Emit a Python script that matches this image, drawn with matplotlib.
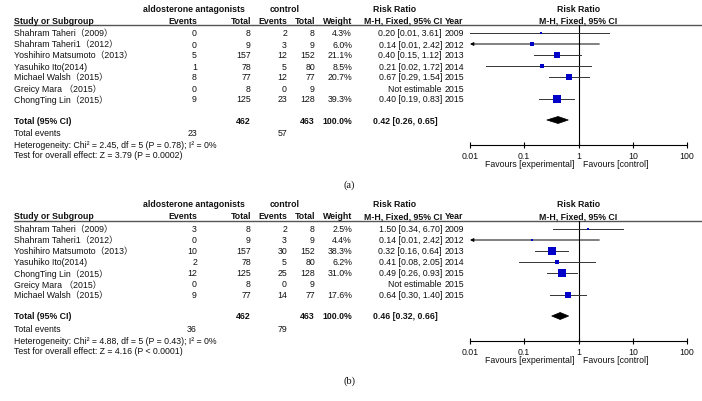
import matplotlib
matplotlib.use("Agg")
import matplotlib.pyplot as plt
from matplotlib.patches import Polygon
import numpy as np

plt.rcParams['font.family'] = ['Liberation Sans', 'Noto Sans CJK SC', 'DejaVu Sans']

# ---------------- data ----------------
studies_a = ["Shahram Taheri（2009）", "Shahram Taheri1（2012）", "Yoshihiro Matsumoto（2013）",
             "Yasuhiko Ito(2014)", "Michael Walsh（2015）", "Greicy Mara （2015）", "ChongTing Lin（2015）"]
exp_events_a = [0, 0, 5, 1, 8, 0, 9]
exp_total_a = [8, 9, 157, 78, 77, 8, 125]
ctl_events_a = [2, 3, 12, 5, 12, 0, 23]
ctl_total_a = [8, 9, 152, 80, 77, 9, 128]
weight_a = [4.3, 6.0, 21.1, 8.5, 20.7, None, 39.3]
rr_a = [0.20, 0.14, 0.40, 0.21, 0.67, None, 0.40]
lo_a = [0.01, 0.01, 0.15, 0.02, 0.29, None, 0.19]
hi_a = [3.61, 2.42, 1.12, 1.72, 1.54, None, 0.83]
year_a = [2009, 2012, 2013, 2014, 2015, 2015, 2015]
total_a = dict(exp_total=462, ctl_total=463, rr=0.42, lo=0.26, hi=0.65,
               exp_events=23, ctl_events=57,
               het="Heterogeneity: Chi² = 2.45, df = 5 (P = 0.78); I² = 0%",
               test="Test for overall effect: Z = 3.79 (P = 0.0002)")

studies_b = ["Shahram Taheri（2009）", "Shahram Taheri1（2012）", "Yoshihiro Matsumoto（2013）",
             "Yasuhiko Ito(2014)", "ChongTing Lin（2015）", "Greicy Mara （2015）", "Michael Walsh（2015）"]
exp_events_b = [3, 0, 10, 2, 12, 0, 9]
exp_total_b = [8, 9, 157, 78, 125, 8, 77]
ctl_events_b = [2, 3, 30, 5, 25, 0, 14]
ctl_total_b = [8, 9, 152, 80, 128, 9, 77]
weight_b = [2.5, 4.4, 38.3, 6.2, 31.0, None, 17.6]
rr_b = [1.50, 0.14, 0.32, 0.41, 0.49, None, 0.64]
lo_b = [0.34, 0.01, 0.16, 0.08, 0.26, None, 0.30]
hi_b = [6.70, 2.42, 0.64, 2.05, 0.93, None, 1.40]
year_b = [2009, 2012, 2013, 2014, 2015, 2015, 2015]
total_b = dict(exp_total=462, ctl_total=463, rr=0.46, lo=0.32, hi=0.66,
               exp_events=36, ctl_events=79,
               het="Heterogeneity: Chi² = 4.88, df = 5 (P = 0.43); I² = 0%",
               test="Test for overall effect: Z = 4.16 (P < 0.0001)")

arrow_rows = [1]  # CI truncated at left
tick_vals = [0.01, 0.1, 1, 10, 100]
tick_labels = ["0.01", "0.1", "1", "10", "100"]

# ---------------- layout ----------------
W, H = 702, 402
fig = plt.figure(figsize=(W / 100, H / 100), dpi=100)
base = fig.add_axes([0, 0, 1, 1])
base.set_xlim(0, W)
base.set_ylim(H, 0)
base.axis('off')

FS = 6.3
TXT = '#111111'
BLUE = '#0000c8'
AX_L, AX_R = 470, 687


def txt(x, y, s, ha='left', bold=False, size=FS, **kw):
    base.text(x, y, s, ha=ha, va='center', fontsize=size,
              fontweight='bold' if bold else 'normal', color=TXT, **kw)


def panel(off, studies, ee, et, ce, ct, wt, rr, lo, hi, yr, tot, label):
    h1, h2, ul = 9 + off, 21 + off, 26 + off
    rows = [34 + off + 11 * i for i in range(len(studies))]
    y_tot, y_ev, y_het, y_test = 121 + off, 134 + off, 145.5 + off, 156 + off
    y_axis = 146 + off

    # headers
    txt(194, h1, "aldosterone antagonists", ha='center', bold=True)
    txt(285, h1, "control", ha='center', bold=True)
    txt(395, h1, "Risk Ratio", ha='center', bold=True)
    txt(578.5, h1, "Risk Ratio", ha='center', bold=True)
    txt(14, h2, "Study or Subgroup", bold=True)
    txt(197, h2, "Events", ha='right', bold=True)
    txt(251, h2, "Total", ha='right', bold=True)
    txt(287, h2, "Events", ha='right', bold=True)
    txt(315, h2, "Total", ha='right', bold=True)
    txt(352, h2, "Weight", ha='right', bold=True)
    txt(442, h2, "M-H, Fixed, 95% CI", ha='right', bold=True)
    txt(445, h2, "Year", bold=True)
    txt(578.5, h2, "M-H, Fixed, 95% CI", ha='center', bold=True)
    base.plot([14, W], [ul, ul], color='#555555', lw=1.0)

    for i, y in enumerate(rows):
        txt(14, y, studies[i])
        txt(197, y, str(ee[i]), ha='right')
        txt(251, y, str(et[i]), ha='right')
        txt(287, y, str(ce[i]), ha='right')
        txt(315, y, str(ct[i]), ha='right')
        if wt[i] is not None:
            txt(352, y, f"{wt[i]:.1f}%", ha='right')
            txt(442, y, f"{rr[i]:.2f} [{lo[i]:.2f}, {hi[i]:.2f}]", ha='right')
        else:
            txt(442, y, "Not estimable", ha='right')
        txt(445, y, str(yr[i]))

    txt(14, y_tot, "Total (95% CI)", bold=True)
    txt(251, y_tot, str(tot['exp_total']), ha='right', bold=True)
    txt(315, y_tot, str(tot['ctl_total']), ha='right', bold=True)
    txt(352, y_tot, "100.0%", ha='right', bold=True)
    txt(373, y_tot, f"{tot['rr']:.2f} [{tot['lo']:.2f}, {tot['hi']:.2f}]", bold=True)
    txt(14, y_ev, "Total events")
    txt(197, y_ev, str(tot['exp_events']), ha='right')
    txt(287, y_ev, str(tot['ctl_events']), ha='right')
    txt(14, y_het, tot['het'])
    txt(14, y_test, tot['test'])

    txt(574, 165 + off, "Favours [experimental]", ha='right')
    txt(583, 165 + off, "Favours [control]")
    base.text(349, 185 + off, label, ha='center', va='center', fontsize=7.5,
              family=['Liberation Serif', 'DejaVu Serif'], color=TXT)

    # forest axes (pixel rows on y, log RR on x)
    ax = fig.add_axes([AX_L / W, 1 - y_axis / H, (AX_R - AX_L) / W, (y_axis - ul) / H])
    ax.set_xscale('log')
    ax.set_xlim(tick_vals[0], tick_vals[-1])
    ax.set_ylim(y_axis, ul)
    ax.patch.set_alpha(0)
    for s in ['top', 'right', 'left']:
        ax.spines[s].set_visible(False)
    ax.spines['bottom'].set_linewidth(0.8)
    ax.set_yticks([])
    ax.set_xticks(tick_vals)
    ax.set_xticklabels(tick_labels)
    ax.xaxis.set_minor_locator(matplotlib.ticker.NullLocator())
    ax.tick_params(axis='x', direction='inout', length=5, width=0.8, pad=2,
                   labelsize=FS, labelcolor=TXT)
    ax.axvline(1, color='black', lw=0.8)

    xmin = ax.get_xlim()[0]
    for i, y in enumerate(rows):
        if wt[i] is None:
            continue
        if i in arrow_rows:
            ax.annotate('', xy=(xmin, y), xytext=(hi[i], y),
                        arrowprops=dict(arrowstyle='-|>', lw=0.7, color='black',
                                        mutation_scale=5, shrinkA=0, shrinkB=0))
        else:
            ax.plot([lo[i], hi[i]], [y, y], color='#333333', lw=0.7)
        ax.scatter([rr[i]], [y], marker='s', s=0.85 * wt[i], color=BLUE,
                   linewidths=0, zorder=3)
    dh = 3.5
    ax.add_patch(Polygon([(tot['lo'], y_tot), (tot['rr'], y_tot - dh),
                          (tot['hi'], y_tot), (tot['rr'], y_tot + dh)],
                         closed=True, facecolor='black', edgecolor='black', lw=0.5))


panel(0, studies_a, exp_events_a, exp_total_a, ctl_events_a, ctl_total_a,
      weight_a, rr_a, lo_a, hi_a, year_a, total_a, "(a)")
panel(196, studies_b, exp_events_b, exp_total_b, ctl_events_b, ctl_total_b,
      weight_b, rr_b, lo_b, hi_b, year_b, total_b, "(b)")

fig.savefig("out.png", dpi=100, facecolor='white')
